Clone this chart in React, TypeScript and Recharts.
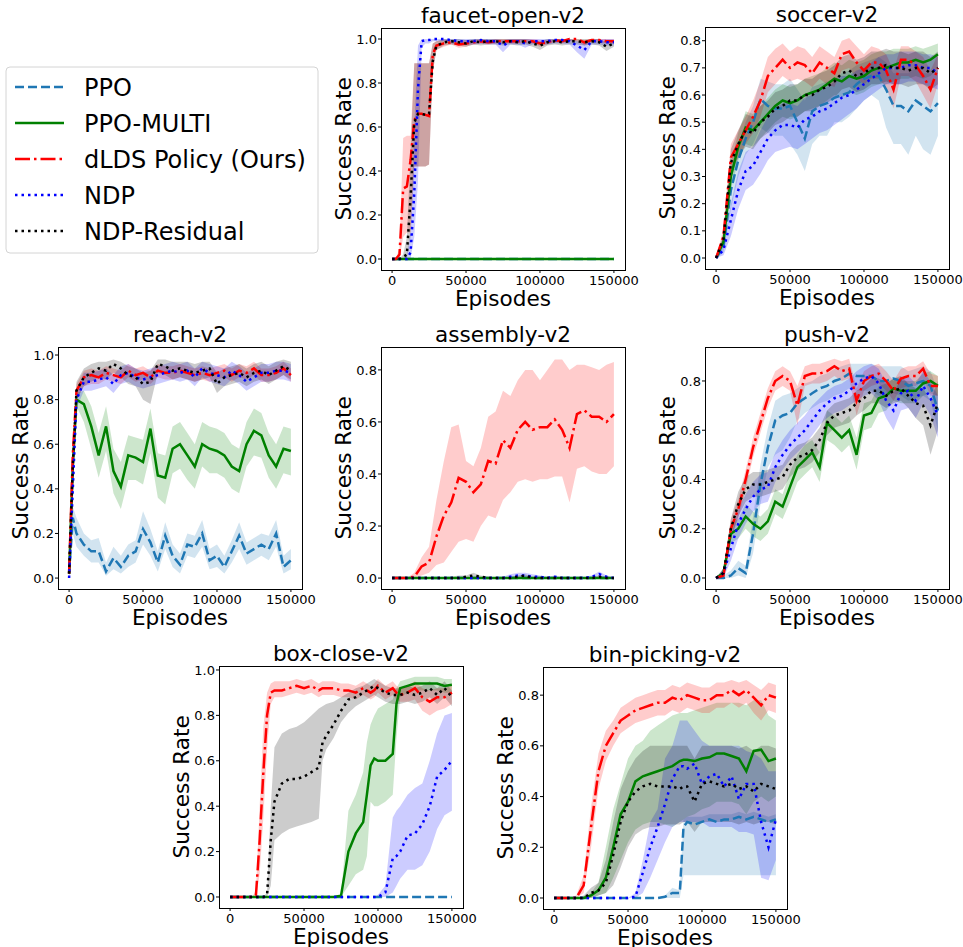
import React from 'react';
import { ComposedChart, Line, Area, XAxis, YAxis } from 'recharts';

const FONT = '"DejaVu Sans", sans-serif';
const BOX_W = 244;
const BOX_H = 242;
const AXIS_W = 50;
const PAD = 5;
const RIGHT = 30;
const X_TICKS = [0, 50000, 100000, 150000];

// line styles for the five methods
const SERIES = [
  { key: 'ppo', name: 'PPO', color: '#1f77b4', dash: '9 4' },
  { key: 'multi', name: 'PPO-MULTI', color: '#008000', dash: undefined },
  { key: 'dlds', name: 'dLDS Policy (Ours)', color: '#ff0000', dash: '15 4 2.5 4' },
  { key: 'ndp', name: 'NDP', color: '#0000ff', dash: '2.5 4' },
  { key: 'res', name: 'NDP-Residual', color: '#000000', dash: '2.5 4' },
];

// ---------- shared x grids ----------
const X5 = [0, 5000, 10000, 15000, 20000, 25000, 30000, 35000, 40000, 45000, 50000, 55000, 60000, 65000, 70000, 75000, 80000, 85000, 90000, 95000, 100000, 105000, 110000, 115000, 120000, 125000, 130000, 135000, 140000, 145000, 150000];

// ---------- faucet-open-v2 ----------
const faucetX = [0, 2500, 5000, 7500, 10000, 12500, 15000, 17500, 20000, 22500, 25000, 27500, 30000, 35000, 40000, 45000, 50000, 55000, 60000, 65000, 70000, 75000, 80000, 85000, 90000, 95000, 100000, 105000, 110000, 115000, 120000, 125000, 130000, 135000, 140000, 145000, 150000];
const faucetZero = [0, 0, 0, 0, 0, 0, 0, 0, 0, 0, 0, 0, 0, 0, 0, 0, 0, 0, 0, 0, 0, 0, 0, 0, 0, 0, 0, 0, 0, 0, 0, 0, 0, 0, 0, 0, 0];
const faucetDlds = [0, 0, 0.02, 0.32, 0.33, 0.45, 0.63, 0.66, 0.66, 0.655, 0.65, 0.93, 0.97, 0.98, 0.985, 0.975, 0.98, 0.985, 0.99, 0.985, 0.99, 0.99, 0.99, 0.99, 0.99, 0.99, 0.98, 0.985, 0.995, 0.99, 1.0, 1.0, 0.985, 0.995, 0.995, 0.99, 0.99];
const faucetDldsLo = [0, 0, 0, 0.1, 0.12, 0.12, 0.42, 0.42, 0.42, 0.42, 0.43, 0.85, 0.95, 0.965, 0.975, 0.96, 0.965, 0.975, 0.98, 0.975, 0.98, 0.98, 0.98, 0.98, 0.98, 0.98, 0.965, 0.975, 0.985, 0.98, 0.99, 0.99, 0.97, 0.985, 0.985, 0.98, 0.98];
const faucetDldsHi = [0, 0, 0.05, 0.55, 0.56, 0.56, 0.89, 0.89, 0.89, 0.89, 0.89, 0.98, 0.99, 0.995, 0.995, 0.99, 0.995, 0.995, 1.0, 0.995, 1.0, 1.0, 1.0, 1.0, 1.0, 1.0, 0.995, 0.995, 1.0, 1.0, 1.0, 1.0, 0.995, 1.0, 1.0, 1.0, 1.0];
const faucetNdp = [0, 0, 0, 0, 0, 0.03, 0.3, 0.77, 0.99, 0.995, 0.995, 1.0, 1.0, 1.0, 0.995, 0.99, 0.99, 0.99, 0.995, 0.99, 0.99, 0.97, 0.99, 0.99, 0.98, 0.99, 0.99, 0.99, 0.995, 0.995, 0.99, 0.97, 0.95, 0.99, 0.99, 0.985, 0.985];
const faucetNdpLo = [0, 0, 0, 0, 0, 0, 0.1, 0.35, 0.96, 0.98, 0.98, 0.99, 0.99, 0.99, 0.98, 0.975, 0.975, 0.975, 0.98, 0.975, 0.975, 0.94, 0.975, 0.975, 0.96, 0.975, 0.975, 0.975, 0.98, 0.98, 0.975, 0.94, 0.91, 0.975, 0.975, 0.97, 0.97];
const faucetNdpHi = [0, 0, 0, 0, 0.02, 0.12, 0.6, 0.97, 1.0, 1.0, 1.0, 1.0, 1.0, 1.0, 1.0, 1.0, 1.0, 1.0, 1.0, 1.0, 1.0, 0.995, 1.0, 1.0, 1.0, 1.0, 1.0, 1.0, 1.0, 1.0, 1.0, 0.99, 0.98, 1.0, 1.0, 1.0, 1.0];
const faucetRes = [0, 0, 0, 0.01, 0.02, 0.28, 0.62, 0.66, 0.66, 0.655, 0.66, 0.9, 0.97, 0.985, 0.99, 0.985, 0.98, 0.99, 0.985, 0.99, 0.99, 0.985, 0.99, 0.985, 0.99, 0.98, 0.97, 0.985, 0.99, 0.985, 0.99, 0.99, 0.985, 0.99, 0.985, 0.965, 0.98];
const faucetResLo = [0, 0, 0, 0, 0, 0.1, 0.42, 0.42, 0.42, 0.42, 0.43, 0.85, 0.95, 0.97, 0.975, 0.97, 0.965, 0.975, 0.97, 0.975, 0.975, 0.97, 0.975, 0.97, 0.975, 0.965, 0.95, 0.97, 0.975, 0.97, 0.975, 0.975, 0.97, 0.975, 0.97, 0.945, 0.965];
const faucetResHi = [0, 0, 0, 0.02, 0.1, 0.5, 0.89, 0.89, 0.89, 0.89, 0.89, 0.98, 0.99, 1.0, 1.0, 1.0, 0.995, 1.0, 1.0, 1.0, 1.0, 1.0, 1.0, 1.0, 1.0, 0.995, 0.99, 1.0, 1.0, 1.0, 1.0, 1.0, 1.0, 1.0, 1.0, 0.985, 0.995];

// ---------- soccer-v2 ----------
const soccerPpo = [0, 0.04, 0.25, 0.36, 0.44, 0.5, 0.585, 0.56, 0.55, 0.55, 0.56, 0.5, 0.44, 0.54, 0.56, 0.57, 0.59, 0.6, 0.61, 0.64, 0.66, 0.67, 0.67, 0.62, 0.56, 0.56, 0.54, 0.58, 0.56, 0.54, 0.57];
const soccerPpoLo = [0, 0.02, 0.18, 0.3, 0.38, 0.42, 0.48, 0.46, 0.45, 0.45, 0.42, 0.38, 0.32, 0.42, 0.45, 0.45, 0.5, 0.5, 0.52, 0.55, 0.58, 0.6, 0.58, 0.48, 0.42, 0.42, 0.38, 0.45, 0.4, 0.38, 0.45];
const soccerPpoHi = [0, 0.06, 0.32, 0.42, 0.5, 0.56, 0.66, 0.65, 0.64, 0.64, 0.66, 0.62, 0.58, 0.63, 0.64, 0.65, 0.66, 0.68, 0.69, 0.71, 0.72, 0.73, 0.74, 0.72, 0.68, 0.68, 0.68, 0.7, 0.68, 0.68, 0.69];
const soccerMulti = [0, 0.06, 0.3, 0.41, 0.48, 0.47, 0.5, 0.53, 0.56, 0.58, 0.57, 0.58, 0.6, 0.61, 0.62, 0.64, 0.66, 0.65, 0.67, 0.66, 0.67, 0.69, 0.7, 0.7, 0.71, 0.72, 0.72, 0.73, 0.72, 0.73, 0.75];
const soccerMultiLo = [0, 0.04, 0.25, 0.36, 0.42, 0.41, 0.44, 0.47, 0.5, 0.52, 0.51, 0.52, 0.54, 0.55, 0.56, 0.58, 0.6, 0.59, 0.61, 0.6, 0.61, 0.63, 0.64, 0.64, 0.65, 0.66, 0.66, 0.67, 0.66, 0.67, 0.7];
const soccerMultiHi = [0, 0.08, 0.35, 0.46, 0.54, 0.53, 0.56, 0.59, 0.62, 0.64, 0.63, 0.64, 0.66, 0.67, 0.68, 0.7, 0.72, 0.71, 0.73, 0.72, 0.73, 0.75, 0.76, 0.76, 0.77, 0.77, 0.77, 0.78, 0.77, 0.78, 0.79];
const soccerDlds = [0, 0.08, 0.37, 0.42, 0.47, 0.52, 0.58, 0.67, 0.7, 0.73, 0.7, 0.72, 0.71, 0.68, 0.72, 0.7, 0.68, 0.75, 0.76, 0.72, 0.69, 0.72, 0.72, 0.69, 0.62, 0.73, 0.73, 0.71, 0.67, 0.62, 0.7];
const soccerDldsLo = [0, 0.05, 0.32, 0.37, 0.42, 0.46, 0.52, 0.61, 0.64, 0.67, 0.65, 0.66, 0.65, 0.63, 0.66, 0.64, 0.63, 0.69, 0.7, 0.66, 0.64, 0.66, 0.66, 0.63, 0.55, 0.67, 0.67, 0.65, 0.6, 0.55, 0.64];
const soccerDldsHi = [0, 0.11, 0.42, 0.47, 0.52, 0.58, 0.65, 0.74, 0.77, 0.79, 0.76, 0.78, 0.77, 0.74, 0.78, 0.76, 0.74, 0.8, 0.81, 0.78, 0.75, 0.78, 0.77, 0.75, 0.69, 0.78, 0.78, 0.76, 0.74, 0.69, 0.75];
const soccerNdp = [0, 0.03, 0.14, 0.25, 0.32, 0.34, 0.39, 0.44, 0.47, 0.49, 0.49, 0.48, 0.51, 0.52, 0.54, 0.55, 0.57, 0.59, 0.6, 0.62, 0.64, 0.66, 0.68, 0.7, 0.7, 0.7, 0.71, 0.71, 0.7, 0.7, 0.68];
const soccerNdpLo = [0, 0.01, 0.08, 0.18, 0.25, 0.27, 0.31, 0.36, 0.39, 0.4, 0.41, 0.4, 0.42, 0.44, 0.46, 0.47, 0.49, 0.51, 0.53, 0.55, 0.58, 0.6, 0.62, 0.64, 0.64, 0.64, 0.65, 0.65, 0.64, 0.63, 0.62];
const soccerNdpHi = [0, 0.05, 0.2, 0.32, 0.39, 0.41, 0.47, 0.52, 0.55, 0.57, 0.57, 0.56, 0.59, 0.6, 0.62, 0.63, 0.65, 0.67, 0.67, 0.69, 0.7, 0.72, 0.74, 0.75, 0.75, 0.76, 0.76, 0.76, 0.75, 0.75, 0.74];
const soccerRes = [0, 0.07, 0.35, 0.42, 0.47, 0.46, 0.5, 0.52, 0.55, 0.56, 0.58, 0.58, 0.6, 0.6, 0.62, 0.63, 0.65, 0.68, 0.69, 0.67, 0.68, 0.7, 0.7, 0.71, 0.7, 0.7, 0.69, 0.7, 0.7, 0.68, 0.7];
const soccerResLo = [0, 0.05, 0.3, 0.37, 0.41, 0.4, 0.44, 0.46, 0.49, 0.5, 0.52, 0.52, 0.54, 0.54, 0.56, 0.57, 0.59, 0.62, 0.63, 0.61, 0.62, 0.64, 0.64, 0.65, 0.64, 0.64, 0.63, 0.64, 0.64, 0.62, 0.64];
const soccerResHi = [0, 0.09, 0.4, 0.47, 0.53, 0.52, 0.56, 0.58, 0.61, 0.62, 0.64, 0.64, 0.66, 0.66, 0.68, 0.69, 0.71, 0.74, 0.75, 0.73, 0.74, 0.76, 0.76, 0.77, 0.76, 0.76, 0.75, 0.76, 0.76, 0.74, 0.76];

// ---------- reach-v2 ----------
const reachX = [0, 2500, 5000, 10000, 15000, 20000, 25000, 30000, 35000, 40000, 45000, 50000, 55000, 60000, 65000, 70000, 75000, 80000, 85000, 90000, 95000, 100000, 105000, 110000, 115000, 120000, 125000, 130000, 135000, 140000, 145000, 150000];
const reachPpo = [0.02, 0.27, 0.2, 0.15, 0.12, 0.12, 0.03, 0.09, 0.05, 0.1, 0.12, 0.22, 0.16, 0.07, 0.19, 0.1, 0.06, 0.15, 0.14, 0.2, 0.08, 0.1, 0.05, 0.12, 0.19, 0.11, 0.13, 0.15, 0.13, 0.2, 0.05, 0.08];
const reachPpoLo = [0, 0.2, 0.14, 0.1, 0.07, 0.07, 0.01, 0.04, 0.02, 0.05, 0.07, 0.15, 0.1, 0.03, 0.13, 0.05, 0.02, 0.1, 0.09, 0.14, 0.04, 0.05, 0.02, 0.07, 0.13, 0.06, 0.08, 0.1, 0.08, 0.14, 0.02, 0.04];
const reachPpoHi = [0.04, 0.32, 0.27, 0.2, 0.17, 0.18, 0.07, 0.14, 0.1, 0.15, 0.17, 0.3, 0.22, 0.12, 0.25, 0.15, 0.11, 0.2, 0.19, 0.26, 0.13, 0.15, 0.1, 0.17, 0.25, 0.16, 0.18, 0.2, 0.19, 0.26, 0.1, 0.13];
const reachMulti = [0.02, 0.5, 0.8, 0.78, 0.68, 0.55, 0.68, 0.48, 0.41, 0.55, 0.54, 0.52, 0.67, 0.46, 0.45, 0.58, 0.6, 0.55, 0.5, 0.6, 0.58, 0.57, 0.55, 0.5, 0.48, 0.6, 0.66, 0.64, 0.55, 0.5, 0.58, 0.57];
const reachMultiLo = [0, 0.45, 0.77, 0.7, 0.58, 0.45, 0.57, 0.38, 0.31, 0.44, 0.44, 0.42, 0.56, 0.36, 0.33, 0.47, 0.49, 0.44, 0.4, 0.5, 0.47, 0.47, 0.45, 0.4, 0.38, 0.5, 0.55, 0.54, 0.45, 0.4, 0.47, 0.46];
const reachMultiHi = [0.04, 0.55, 0.83, 0.84, 0.77, 0.65, 0.77, 0.58, 0.52, 0.64, 0.63, 0.62, 0.76, 0.56, 0.55, 0.68, 0.7, 0.65, 0.6, 0.7, 0.68, 0.67, 0.65, 0.6, 0.58, 0.7, 0.76, 0.74, 0.65, 0.6, 0.68, 0.67];
const reachDlds = [0.02, 0.55, 0.84, 0.9, 0.91, 0.9, 0.92, 0.91, 0.9, 0.93, 0.91, 0.92, 0.9, 0.93, 0.92, 0.92, 0.93, 0.92, 0.91, 0.92, 0.91, 0.92, 0.93, 0.91, 0.93, 0.92, 0.94, 0.91, 0.91, 0.92, 0.94, 0.91];
const reachDldsLo = [0, 0.5, 0.8, 0.86, 0.87, 0.87, 0.89, 0.88, 0.87, 0.9, 0.88, 0.89, 0.87, 0.9, 0.89, 0.89, 0.9, 0.89, 0.88, 0.89, 0.88, 0.89, 0.9, 0.88, 0.9, 0.89, 0.91, 0.88, 0.88, 0.89, 0.91, 0.88];
const reachDldsHi = [0.04, 0.6, 0.87, 0.93, 0.94, 0.93, 0.95, 0.94, 0.93, 0.96, 0.94, 0.95, 0.93, 0.96, 0.95, 0.95, 0.96, 0.95, 0.94, 0.95, 0.94, 0.95, 0.96, 0.94, 0.96, 0.95, 0.97, 0.94, 0.94, 0.95, 0.97, 0.94];
const reachNdp = [0, 0.4, 0.8, 0.88, 0.88, 0.89, 0.9, 0.87, 0.91, 0.92, 0.9, 0.89, 0.9, 0.91, 0.92, 0.93, 0.92, 0.93, 0.9, 0.94, 0.92, 0.91, 0.9, 0.93, 0.91, 0.88, 0.9, 0.92, 0.92, 0.93, 0.93, 0.92];
const reachNdpLo = [0, 0.35, 0.76, 0.84, 0.84, 0.85, 0.86, 0.83, 0.87, 0.88, 0.86, 0.85, 0.86, 0.87, 0.88, 0.89, 0.88, 0.89, 0.86, 0.9, 0.88, 0.87, 0.86, 0.89, 0.87, 0.84, 0.86, 0.88, 0.88, 0.89, 0.89, 0.88];
const reachNdpHi = [0.02, 0.45, 0.84, 0.92, 0.92, 0.93, 0.94, 0.91, 0.95, 0.96, 0.94, 0.93, 0.94, 0.95, 0.96, 0.97, 0.96, 0.97, 0.94, 0.97, 0.96, 0.95, 0.94, 0.97, 0.95, 0.92, 0.94, 0.96, 0.96, 0.97, 0.97, 0.96];
const reachRes = [0.02, 0.5, 0.84, 0.9, 0.92, 0.94, 0.93, 0.96, 0.94, 0.91, 0.9, 0.87, 0.88, 0.96, 0.95, 0.93, 0.94, 0.93, 0.92, 0.93, 0.94, 0.87, 0.9, 0.91, 0.92, 0.9, 0.92, 0.93, 0.91, 0.93, 0.95, 0.93];
const reachResLo = [0, 0.45, 0.8, 0.86, 0.88, 0.9, 0.89, 0.92, 0.9, 0.87, 0.86, 0.8, 0.78, 0.92, 0.91, 0.89, 0.9, 0.89, 0.88, 0.89, 0.9, 0.83, 0.86, 0.87, 0.88, 0.86, 0.88, 0.89, 0.87, 0.89, 0.91, 0.89];
const reachResHi = [0.04, 0.55, 0.88, 0.94, 0.96, 0.97, 0.97, 0.98, 0.97, 0.95, 0.94, 0.92, 0.93, 0.98, 0.98, 0.97, 0.97, 0.97, 0.96, 0.97, 0.97, 0.92, 0.94, 0.95, 0.96, 0.94, 0.96, 0.97, 0.95, 0.97, 0.98, 0.97];

// ---------- assembly-v2 ----------
const asmZero = [0, 0, 0, 0, 0, 0, 0, 0, 0, 0, 0, 0, 0, 0, 0, 0, 0, 0, 0, 0, 0, 0, 0, 0, 0, 0, 0, 0, 0, 0, 0];
const asmDlds = [0, 0, 0, 0.005, 0.045, 0.06, 0.16, 0.24, 0.29, 0.385, 0.37, 0.33, 0.36, 0.45, 0.44, 0.53, 0.5, 0.57, 0.6, 0.57, 0.58, 0.58, 0.61, 0.57, 0.5, 0.63, 0.645, 0.62, 0.62, 0.6, 0.63];
const asmDldsLo = [0, 0, 0, 0, 0.01, 0.02, 0.05, 0.06, 0.1, 0.14, 0.15, 0.14, 0.2, 0.24, 0.23, 0.3, 0.33, 0.37, 0.38, 0.37, 0.38, 0.38, 0.39, 0.39, 0.29, 0.42, 0.43, 0.41, 0.4, 0.4, 0.43];
const asmDldsHi = [0, 0, 0, 0.02, 0.08, 0.12, 0.3, 0.45, 0.58, 0.59, 0.45, 0.43, 0.5, 0.62, 0.64, 0.72, 0.7, 0.76, 0.8, 0.8, 0.76, 0.8, 0.84, 0.84, 0.8, 0.82, 0.82, 0.81, 0.8, 0.82, 0.83];
const asmNdp = [0, 0, 0, 0, 0, 0, 0, 0, 0, 0, 0, 0, 0, 0, 0, 0, 0.005, 0.01, 0.01, 0.005, 0.005, 0, 0.005, 0, 0, 0, 0, 0.005, 0.015, 0.005, 0];
const asmNdpHi = [0, 0, 0, 0, 0, 0, 0, 0, 0, 0, 0, 0, 0, 0, 0, 0.005, 0.015, 0.02, 0.02, 0.015, 0.01, 0.005, 0.01, 0.005, 0.005, 0.005, 0.005, 0.01, 0.025, 0.01, 0.005];
const asmRes = [0, 0, 0, 0, 0, 0, 0, 0, 0, 0, 0.005, 0.01, 0.005, 0, 0, 0, 0, 0.005, 0.01, 0, 0, 0, 0, 0, 0, 0, 0, 0, 0.005, 0, 0];
const asmResHi = [0, 0, 0, 0, 0, 0, 0, 0, 0.005, 0.01, 0.01, 0.02, 0.01, 0.005, 0, 0, 0.005, 0.01, 0.015, 0.005, 0.005, 0.005, 0, 0, 0.005, 0, 0, 0, 0.01, 0.005, 0];

// ---------- push-v2 ----------
const pushPpo = [0, 0, 0.01, 0.04, 0.02, 0.18, 0.38, 0.53, 0.64, 0.66, 0.67, 0.71, 0.73, 0.75, 0.77, 0.78, 0.8, 0.81, 0.83, 0.82, 0.82, 0.82, 0.8, 0.8, 0.81, 0.8, 0.78, 0.79, 0.8, 0.78, 0.68];
const pushPpoLo = [0, 0, 0, 0.01, 0, 0.1, 0.3, 0.45, 0.5, 0.52, 0.57, 0.64, 0.67, 0.69, 0.71, 0.72, 0.74, 0.75, 0.77, 0.76, 0.76, 0.76, 0.74, 0.74, 0.75, 0.74, 0.72, 0.73, 0.74, 0.72, 0.6];
const pushPpoHi = [0, 0.01, 0.03, 0.07, 0.05, 0.25, 0.46, 0.61, 0.72, 0.74, 0.75, 0.77, 0.79, 0.8, 0.82, 0.83, 0.85, 0.86, 0.87, 0.87, 0.87, 0.87, 0.86, 0.86, 0.86, 0.86, 0.84, 0.85, 0.86, 0.84, 0.76];
const pushMulti = [0, 0.02, 0.18, 0.2, 0.25, 0.22, 0.2, 0.23, 0.31, 0.29, 0.37, 0.45, 0.48, 0.51, 0.45, 0.63, 0.6, 0.57, 0.6, 0.5, 0.66, 0.67, 0.73, 0.74, 0.77, 0.76, 0.76, 0.76, 0.79, 0.8, 0.78];
const pushMultiLo = [0, 0, 0.14, 0.16, 0.2, 0.17, 0.15, 0.18, 0.26, 0.24, 0.31, 0.39, 0.42, 0.45, 0.39, 0.56, 0.54, 0.51, 0.54, 0.44, 0.6, 0.61, 0.67, 0.68, 0.72, 0.71, 0.71, 0.71, 0.74, 0.75, 0.74];
const pushMultiHi = [0, 0.04, 0.22, 0.24, 0.3, 0.27, 0.25, 0.28, 0.36, 0.34, 0.43, 0.5, 0.54, 0.56, 0.51, 0.68, 0.66, 0.63, 0.66, 0.57, 0.71, 0.72, 0.78, 0.79, 0.81, 0.8, 0.8, 0.8, 0.83, 0.84, 0.82];
const pushDlds = [0, 0.01, 0.2, 0.28, 0.4, 0.53, 0.63, 0.73, 0.8, 0.82, 0.8, 0.7, 0.82, 0.83, 0.83, 0.84, 0.86, 0.84, 0.85, 0.72, 0.8, 0.82, 0.83, 0.8, 0.76, 0.81, 0.82, 0.82, 0.85, 0.78, 0.78];
const pushDldsLo = [0, 0, 0.16, 0.24, 0.36, 0.49, 0.59, 0.69, 0.76, 0.78, 0.76, 0.62, 0.78, 0.79, 0.79, 0.8, 0.82, 0.8, 0.81, 0.66, 0.76, 0.78, 0.79, 0.76, 0.72, 0.77, 0.78, 0.78, 0.81, 0.74, 0.74];
const pushDldsHi = [0, 0.03, 0.24, 0.32, 0.44, 0.57, 0.67, 0.77, 0.84, 0.86, 0.84, 0.78, 0.86, 0.87, 0.87, 0.88, 0.89, 0.88, 0.89, 0.77, 0.84, 0.86, 0.87, 0.84, 0.8, 0.85, 0.86, 0.86, 0.88, 0.83, 0.82];
const pushNdp = [0, 0.02, 0.12, 0.22, 0.28, 0.33, 0.36, 0.37, 0.45, 0.5, 0.54, 0.57, 0.6, 0.64, 0.68, 0.71, 0.73, 0.74, 0.76, 0.79, 0.81, 0.82, 0.79, 0.72, 0.68, 0.75, 0.76, 0.72, 0.78, 0.73, 0.66];
const pushNdpLo = [0, 0, 0.07, 0.16, 0.22, 0.27, 0.3, 0.31, 0.39, 0.44, 0.48, 0.51, 0.54, 0.58, 0.62, 0.65, 0.67, 0.68, 0.7, 0.72, 0.74, 0.75, 0.72, 0.65, 0.6, 0.68, 0.69, 0.65, 0.71, 0.66, 0.57];
const pushNdpHi = [0, 0.04, 0.17, 0.28, 0.34, 0.39, 0.42, 0.43, 0.51, 0.56, 0.6, 0.63, 0.66, 0.7, 0.73, 0.76, 0.78, 0.79, 0.81, 0.84, 0.86, 0.87, 0.85, 0.79, 0.75, 0.81, 0.82, 0.79, 0.84, 0.8, 0.74];
const pushRes = [0, 0.02, 0.2, 0.3, 0.36, 0.38, 0.38, 0.39, 0.4, 0.41, 0.46, 0.49, 0.5, 0.52, 0.56, 0.63, 0.66, 0.67, 0.68, 0.71, 0.73, 0.76, 0.76, 0.74, 0.76, 0.77, 0.74, 0.71, 0.7, 0.62, 0.71];
const pushResLo = [0, 0, 0.16, 0.25, 0.31, 0.33, 0.33, 0.34, 0.35, 0.36, 0.41, 0.44, 0.45, 0.47, 0.51, 0.58, 0.61, 0.62, 0.63, 0.66, 0.68, 0.71, 0.71, 0.69, 0.71, 0.72, 0.69, 0.65, 0.62, 0.5, 0.6];
const pushResHi = [0, 0.04, 0.24, 0.35, 0.41, 0.43, 0.43, 0.44, 0.45, 0.46, 0.51, 0.54, 0.55, 0.57, 0.61, 0.68, 0.71, 0.72, 0.73, 0.76, 0.78, 0.81, 0.81, 0.79, 0.81, 0.82, 0.79, 0.77, 0.77, 0.72, 0.8];

// ---------- box-close-v2 ----------
const boxX = [0, 5000, 10000, 15000, 17500, 20000, 22500, 25000, 27500, 30000, 35000, 40000, 45000, 50000, 55000, 60000, 62500, 65000, 70000, 75000, 80000, 85000, 90000, 92500, 95000, 97500, 100000, 105000, 110000, 112500, 115000, 120000, 125000, 130000, 135000, 140000, 145000, 150000];
const boxZero = [0, 0, 0, 0, 0, 0, 0, 0, 0, 0, 0, 0, 0, 0, 0, 0, 0, 0, 0, 0, 0, 0, 0, 0, 0, 0, 0, 0, 0, 0, 0, 0, 0, 0, 0, 0, 0, 0];
const boxMulti = [0, 0, 0, 0, 0, 0, 0, 0, 0, 0, 0, 0, 0, 0, 0, 0, 0, 0, 0, 0.005, 0.2, 0.28, 0.33, 0.45, 0.58, 0.61, 0.6, 0.6, 0.63, 0.85, 0.92, 0.93, 0.94, 0.94, 0.94, 0.94, 0.93, 0.935];
const boxMultiLo = [0, 0, 0, 0, 0, 0, 0, 0, 0, 0, 0, 0, 0, 0, 0, 0, 0, 0, 0, 0, 0.05, 0.1, 0.12, 0.18, 0.42, 0.4, 0.4, 0.42, 0.45, 0.7, 0.88, 0.9, 0.91, 0.91, 0.91, 0.91, 0.9, 0.9];
const boxMultiHi = [0, 0, 0, 0, 0, 0, 0, 0, 0, 0, 0, 0, 0, 0, 0, 0, 0, 0, 0, 0.01, 0.38, 0.45, 0.55, 0.68, 0.76, 0.8, 0.83, 0.85, 0.87, 0.92, 0.95, 0.96, 0.97, 0.97, 0.97, 0.97, 0.96, 0.96];
const boxDlds = [0, 0, 0, 0, 0.01, 0.25, 0.55, 0.8, 0.9, 0.91, 0.91, 0.92, 0.93, 0.92, 0.93, 0.91, 0.92, 0.92, 0.92, 0.91, 0.91, 0.9, 0.92, 0.91, 0.9, 0.91, 0.93, 0.9, 0.92, 0.9, 0.89, 0.9, 0.92, 0.88, 0.86, 0.88, 0.88, 0.9];
const boxDldsLo = [0, 0, 0, 0, 0, 0.1, 0.35, 0.65, 0.85, 0.88, 0.88, 0.89, 0.9, 0.89, 0.9, 0.88, 0.89, 0.89, 0.89, 0.88, 0.88, 0.87, 0.89, 0.88, 0.87, 0.88, 0.9, 0.87, 0.89, 0.87, 0.86, 0.86, 0.87, 0.82, 0.8, 0.82, 0.83, 0.85];
const boxDldsHi = [0, 0, 0, 0, 0.03, 0.4, 0.75, 0.9, 0.94, 0.95, 0.95, 0.95, 0.96, 0.95, 0.96, 0.94, 0.95, 0.95, 0.95, 0.94, 0.94, 0.93, 0.95, 0.94, 0.93, 0.94, 0.96, 0.93, 0.95, 0.93, 0.92, 0.93, 0.95, 0.92, 0.91, 0.92, 0.92, 0.93];
const boxNdp = [0, 0, 0, 0, 0, 0, 0, 0, 0, 0, 0, 0, 0, 0, 0, 0, 0, 0, 0, 0, 0, 0, 0, 0, 0, 0, 0, 0.02, 0.17, 0.18, 0.2, 0.27, 0.28, 0.32, 0.4, 0.53, 0.56, 0.6];
const boxNdpLo = [0, 0, 0, 0, 0, 0, 0, 0, 0, 0, 0, 0, 0, 0, 0, 0, 0, 0, 0, 0, 0, 0, 0, 0, 0, 0, 0, 0, 0.02, 0.05, 0.08, 0.12, 0.12, 0.14, 0.2, 0.3, 0.36, 0.38];
const boxNdpHi = [0, 0, 0, 0, 0, 0, 0, 0, 0, 0, 0, 0, 0, 0, 0, 0, 0, 0, 0, 0, 0, 0, 0, 0, 0, 0, 0.01, 0.05, 0.35, 0.38, 0.4, 0.45, 0.48, 0.5, 0.6, 0.72, 0.8, 0.81];
const boxRes = [0, 0, 0, 0, 0, 0, 0, 0.01, 0.25, 0.42, 0.5, 0.52, 0.52, 0.53, 0.55, 0.57, 0.68, 0.71, 0.76, 0.82, 0.87, 0.88, 0.9, 0.91, 0.92, 0.93, 0.92, 0.9, 0.89, 0.89, 0.89, 0.9, 0.89, 0.9, 0.92, 0.89, 0.92, 0.88];
const boxResLo = [0, 0, 0, 0, 0, 0, 0, 0, 0.05, 0.25, 0.28, 0.3, 0.31, 0.32, 0.33, 0.345, 0.6, 0.65, 0.7, 0.77, 0.81, 0.84, 0.86, 0.87, 0.88, 0.89, 0.88, 0.86, 0.85, 0.85, 0.85, 0.86, 0.85, 0.86, 0.88, 0.85, 0.88, 0.84];
const boxResHi = [0, 0, 0, 0, 0, 0, 0, 0.02, 0.4, 0.66, 0.72, 0.74, 0.75, 0.77, 0.8, 0.83, 0.84, 0.85, 0.86, 0.88, 0.9, 0.92, 0.93, 0.94, 0.95, 0.96, 0.95, 0.93, 0.92, 0.92, 0.92, 0.93, 0.92, 0.93, 0.95, 0.92, 0.95, 0.91];

// ---------- bin-picking-v2 ----------
const binX = [0, 5000, 10000, 15000, 20000, 25000, 30000, 35000, 40000, 45000, 50000, 55000, 60000, 65000, 70000, 75000, 80000, 85000, 87500, 90000, 95000, 100000, 105000, 110000, 115000, 120000, 125000, 130000, 135000, 140000, 145000, 150000];
const binPpo = [0, 0, 0, 0, 0, 0, 0, 0, 0, 0, 0, 0, 0, 0, 0, 0.005, 0.02, 0.02, 0.28, 0.3, 0.29, 0.3, 0.31, 0.3, 0.31, 0.31, 0.32, 0.31, 0.32, 0.31, 0.3, 0.31];
const binPpoLo = [0, 0, 0, 0, 0, 0, 0, 0, 0, 0, 0, 0, 0, 0, 0, 0, 0, 0, 0.09, 0.09, 0.09, 0.09, 0.09, 0.09, 0.09, 0.09, 0.09, 0.09, 0.09, 0.09, 0.09, 0.09];
const binPpoHi = [0, 0, 0, 0, 0, 0, 0, 0, 0, 0, 0, 0, 0, 0, 0, 0.01, 0.04, 0.03, 0.31, 0.32, 0.32, 0.32, 0.33, 0.33, 0.33, 0.33, 0.34, 0.33, 0.34, 0.33, 0.32, 0.33];
const binMulti = [0, 0, 0, 0, 0, 0.01, 0.03, 0.08, 0.2, 0.33, 0.38, 0.46, 0.48, 0.49, 0.5, 0.51, 0.52, 0.54, 0.545, 0.545, 0.54, 0.55, 0.555, 0.57, 0.57, 0.56, 0.55, 0.5, 0.58, 0.585, 0.54, 0.55];
const binMultiLo = [0, 0, 0, 0, 0, 0, 0.01, 0.02, 0.08, 0.15, 0.22, 0.27, 0.29, 0.3, 0.3, 0.29, 0.28, 0.3, 0.31, 0.32, 0.33, 0.35, 0.36, 0.38, 0.38, 0.38, 0.37, 0.33, 0.38, 0.4, 0.38, 0.4];
const binMultiHi = [0, 0, 0, 0, 0, 0.02, 0.06, 0.2, 0.35, 0.45, 0.55, 0.6, 0.62, 0.66, 0.68, 0.7, 0.72, 0.73, 0.73, 0.73, 0.74, 0.75, 0.76, 0.77, 0.77, 0.77, 0.77, 0.76, 0.78, 0.78, 0.72, 0.7];
const binDlds = [0, 0, 0, 0, 0.05, 0.28, 0.5, 0.6, 0.65, 0.7, 0.72, 0.74, 0.75, 0.76, 0.77, 0.77, 0.79, 0.78, 0.79, 0.8, 0.79, 0.78, 0.78, 0.8, 0.8, 0.82, 0.8, 0.82, 0.79, 0.76, 0.8, 0.79];
const binDldsLo = [0, 0, 0, 0, 0.02, 0.2, 0.43, 0.54, 0.6, 0.65, 0.67, 0.69, 0.7, 0.71, 0.72, 0.72, 0.74, 0.73, 0.74, 0.75, 0.74, 0.73, 0.73, 0.75, 0.75, 0.77, 0.75, 0.77, 0.73, 0.7, 0.74, 0.73];
const binDldsHi = [0, 0, 0, 0.01, 0.09, 0.36, 0.57, 0.66, 0.7, 0.75, 0.77, 0.79, 0.8, 0.81, 0.82, 0.82, 0.84, 0.83, 0.84, 0.85, 0.84, 0.83, 0.83, 0.85, 0.85, 0.86, 0.85, 0.86, 0.84, 0.82, 0.85, 0.84];
const binNdp = [0, 0, 0, 0, 0, 0, 0, 0, 0, 0, 0, 0.005, 0.1, 0.2, 0.28, 0.37, 0.47, 0.52, 0.52, 0.51, 0.53, 0.45, 0.48, 0.49, 0.44, 0.48, 0.39, 0.45, 0.45, 0.3, 0.2, 0.31];
const binNdpLo = [0, 0, 0, 0, 0, 0, 0, 0, 0, 0, 0, 0, 0.02, 0.08, 0.15, 0.22, 0.28, 0.3, 0.3, 0.3, 0.3, 0.3, 0.28, 0.28, 0.28, 0.28, 0.26, 0.26, 0.25, 0.08, 0.07, 0.15];
const binNdpHi = [0, 0, 0, 0, 0, 0, 0, 0, 0, 0, 0, 0.02, 0.15, 0.3, 0.35, 0.55, 0.6, 0.7, 0.7, 0.7, 0.66, 0.62, 0.6, 0.6, 0.6, 0.6, 0.6, 0.58, 0.57, 0.55, 0.5, 0.5];
const binRes = [0, 0, 0, 0, 0, 0.02, 0.03, 0.06, 0.17, 0.3, 0.38, 0.42, 0.44, 0.45, 0.44, 0.44, 0.44, 0.43, 0.44, 0.44, 0.38, 0.45, 0.46, 0.45, 0.44, 0.45, 0.43, 0.44, 0.42, 0.45, 0.44, 0.43];
const binResLo = [0, 0, 0, 0, 0, 0, 0.01, 0.02, 0.05, 0.12, 0.2, 0.25, 0.27, 0.28, 0.28, 0.29, 0.29, 0.29, 0.3, 0.3, 0.26, 0.3, 0.3, 0.3, 0.3, 0.3, 0.29, 0.3, 0.29, 0.3, 0.3, 0.29];
const binResHi = [0, 0, 0, 0, 0.01, 0.04, 0.06, 0.15, 0.3, 0.43, 0.5, 0.55, 0.58, 0.6, 0.6, 0.6, 0.6, 0.6, 0.6, 0.6, 0.55, 0.6, 0.6, 0.6, 0.6, 0.6, 0.59, 0.6, 0.58, 0.6, 0.6, 0.59];

const T10 = [0, 0.2, 0.4, 0.6, 0.8, 1.0];
const T08 = [0, 0.2, 0.4, 0.6, 0.8];

const PANELS = [
  {
    title: 'faucet-open-v2', left: 381, top: 28, xs: faucetX, yDomain: [-0.05, 1.05], yTicks: T10,
    data: {
      ppo: [faucetZero, faucetZero, faucetZero], multi: [faucetZero, faucetZero, faucetZero],
      dlds: [faucetDlds, faucetDldsLo, faucetDldsHi], ndp: [faucetNdp, faucetNdpLo, faucetNdpHi], res: [faucetRes, faucetResLo, faucetResHi],
    },
  },
  {
    title: 'soccer-v2', left: 705, top: 27, xs: X5, yDomain: [-0.0405, 0.8505], yTicks: [0, 0.1, 0.2, 0.3, 0.4, 0.5, 0.6, 0.7, 0.8],
    data: {
      ppo: [soccerPpo, soccerPpoLo, soccerPpoHi], multi: [soccerMulti, soccerMultiLo, soccerMultiHi],
      dlds: [soccerDlds, soccerDldsLo, soccerDldsHi], ndp: [soccerNdp, soccerNdpLo, soccerNdpHi], res: [soccerRes, soccerResLo, soccerResHi],
    },
  },
  {
    title: 'reach-v2', left: 58, top: 347, xs: reachX, yDomain: [-0.049, 1.036], yTicks: T10,
    data: {
      ppo: [reachPpo, reachPpoLo, reachPpoHi], multi: [reachMulti, reachMultiLo, reachMultiHi],
      dlds: [reachDlds, reachDldsLo, reachDldsHi], ndp: [reachNdp, reachNdpLo, reachNdpHi], res: [reachRes, reachResLo, reachResHi],
    },
  },
  {
    title: 'assembly-v2', left: 381, top: 347, xs: X5, yDomain: [-0.042, 0.888], yTicks: T08,
    data: {
      ppo: [asmZero, asmZero, asmZero], multi: [asmZero, asmZero, asmZero],
      dlds: [asmDlds, asmDldsLo, asmDldsHi], ndp: [asmNdp, asmZero, asmNdpHi], res: [asmRes, asmZero, asmResHi],
    },
  },
  {
    title: 'push-v2', left: 705, top: 347, xs: X5, yDomain: [-0.0447, 0.938], yTicks: T08,
    data: {
      ppo: [pushPpo, pushPpoLo, pushPpoHi], multi: [pushMulti, pushMultiLo, pushMultiHi],
      dlds: [pushDlds, pushDldsLo, pushDldsHi], ndp: [pushNdp, pushNdpLo, pushNdpHi], res: [pushRes, pushResLo, pushResHi],
    },
  },
  {
    title: 'box-close-v2', left: 219, top: 666, xs: boxX, yDomain: [-0.0485, 1.0175], yTicks: T10,
    data: {
      ppo: [boxZero, boxZero, boxZero], multi: [boxMulti, boxMultiLo, boxMultiHi],
      dlds: [boxDlds, boxDldsLo, boxDldsHi], ndp: [boxNdp, boxNdpLo, boxNdpHi], res: [boxRes, boxResLo, boxResHi],
    },
  },
  {
    title: 'bin-picking-v2', left: 543, top: 667, xs: binX, yDomain: [-0.0434, 0.911], yTicks: T08,
    data: {
      ppo: [binPpo, binPpoLo, binPpoHi], multi: [binMulti, binMultiLo, binMultiHi],
      dlds: [binDlds, binDldsLo, binDldsHi], ndp: [binNdp, binNdpLo, binNdpHi], res: [binRes, binResLo, binResHi],
    },
  },
];

const tickStyle = { fill: '#000', fontSize: 13, fontFamily: FONT };
const labelStyle: React.CSSProperties = {
  position: 'absolute', fontFamily: FONT, fontSize: 21.6, lineHeight: '21.6px', color: '#000', whiteSpace: 'nowrap', textAlign: 'center',
};

const Panel = ({ p }: { p: any }) => {
  const rows = p.xs.map((x: number, i: number) => {
    const r: any = { x };
    SERIES.forEach((s) => {
      const [m, lo, hi] = p.data[s.key];
      r[s.key] = m[i];
      r[s.key + 'Band'] = [lo[i], hi[i]];
    });
    return r;
  });
  const cx = p.left + BOX_W / 2;
  const cy = p.top + BOX_H / 2;
  return (
    <>
      <div style={{ ...labelStyle, left: cx - 150, top: p.top - 23, width: 300 }}>{p.title}</div>
      <div style={{ ...labelStyle, left: cx - 150, top: p.top + BOX_H + 18, width: 300 }}>Episodes</div>
      <div
        style={{
          ...labelStyle, width: 240, height: 21.6,
          left: p.left - 37.5 - 120, top: cy - 10.8, transform: 'rotate(-90deg)',
        }}
      >
        Success Rate
      </div>
      <div style={{ position: 'absolute', left: p.left - AXIS_W, top: p.top - PAD }}>
        <ComposedChart
          width={AXIS_W + BOX_W + RIGHT}
          height={PAD + BOX_H + 30}
          data={rows}
          margin={{ top: PAD, right: RIGHT, bottom: 0, left: 0 }}
        >
          <XAxis
            dataKey="x" type="number" domain={[-7500, 157500]} ticks={X_TICKS} allowDataOverflow
            height={30} stroke="#000" axisLine={false} tickSize={3} tickMargin={3} tick={tickStyle} interval={0}
          />
          <YAxis
            type="number" domain={p.yDomain} ticks={p.yTicks} allowDataOverflow width={AXIS_W}
            stroke="#000" axisLine={false} tickSize={3} tickMargin={1} tick={tickStyle} interval={0}
            tickFormatter={(v: number) => v.toFixed(1)}
          />
          {SERIES.map((s) => (
            <Area
              key={s.key + 'Band'} dataKey={s.key + 'Band'} type="linear" stroke="none"
              fill={s.color} fillOpacity={0.2} isAnimationActive={false} activeDot={false} dot={false}
            />
          ))}
          {SERIES.map((s) => (
            <Line
              key={s.key} dataKey={s.key} type="linear" stroke={s.color} strokeWidth={2.5}
              strokeDasharray={s.dash} dot={false} activeDot={false} isAnimationActive={false}
            />
          ))}
        </ComposedChart>
      </div>
      {/* axes frame */}
      <div
        style={{
          position: 'absolute', left: p.left - 0.5, top: p.top - 0.5, width: BOX_W + 1, height: BOX_H + 1,
          border: '1px solid #000', boxSizing: 'border-box', pointerEvents: 'none',
        }}
      />
    </>
  );
};

const LegendBox = () => (
  <svg width={314} height={188} style={{ position: 'absolute', left: 5, top: 66 }}>
    <rect x={1} y={1} width={312} height={186} rx={4} fill="#fff" fillOpacity={0.8} stroke="#d4d4d4" />
    {SERIES.map((s, i) => (
      <g key={s.key}>
        <line x1={10} x2={59} y1={21 + i * 36} y2={21 + i * 36} stroke={s.color} strokeWidth={2.5} strokeDasharray={s.dash} />
        <text x={79} y={30 + i * 36} fontFamily={FONT} fontSize={24} fill="#000">{s.name}</text>
      </g>
    ))}
  </svg>
);

export default function App() {
  return (
    <div style={{ position: 'absolute', left: 0, top: 0, width: 963, height: 947, background: '#fff', fontFamily: FONT }}>
      {PANELS.map((p) => (
        <Panel key={p.title} p={p} />
      ))}
      <LegendBox />
    </div>
  );
}
